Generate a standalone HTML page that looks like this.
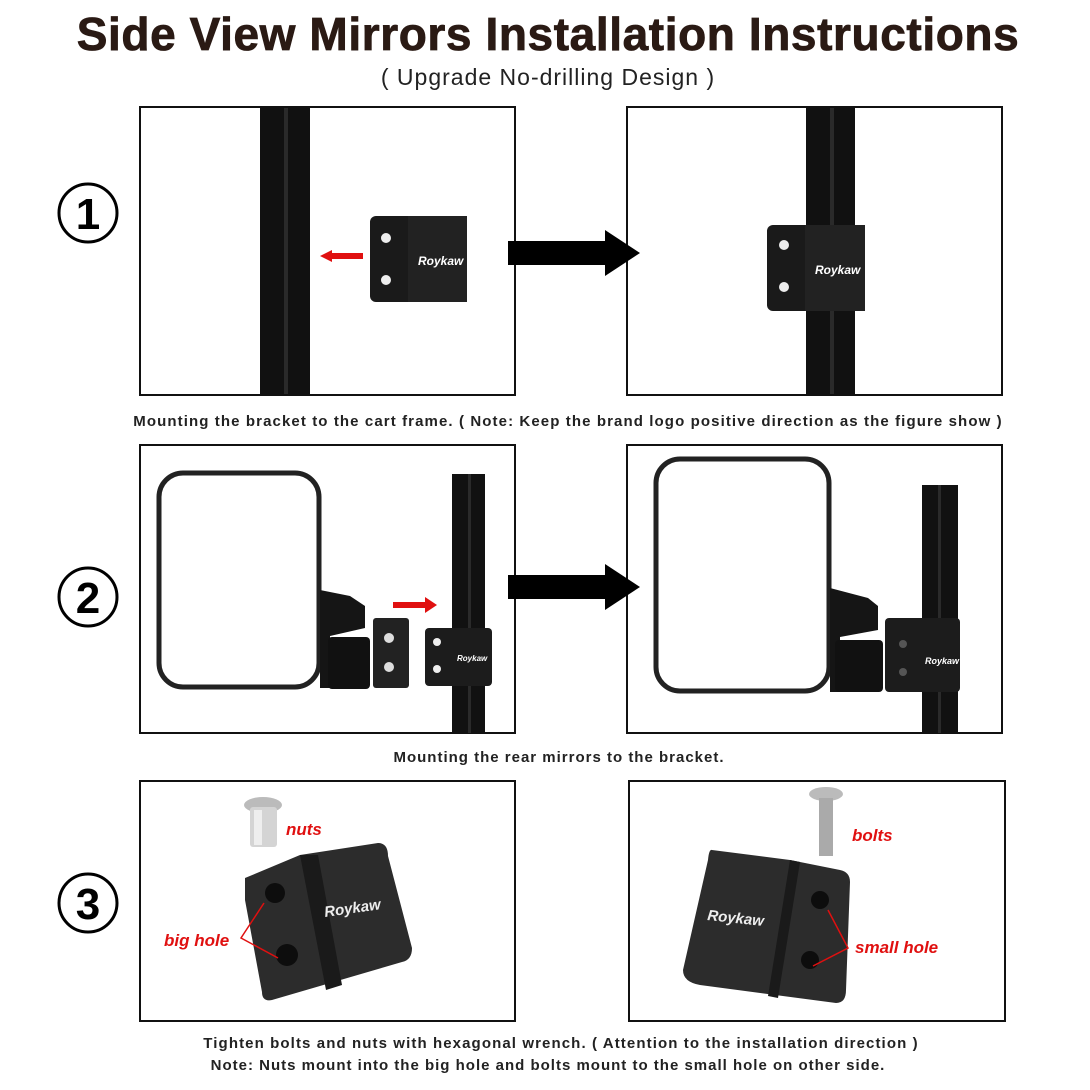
<!DOCTYPE html>
<html><head><meta charset="utf-8"><style>
html,body{margin:0;padding:0;background:#fff;width:1090px;height:1090px;overflow:hidden}
svg{display:block}
text{font-family:"Liberation Sans",sans-serif}
</style></head><body>
<svg width="1090" height="1090" viewBox="0 0 1090 1090" xmlns="http://www.w3.org/2000/svg">
<defs>
<g id="arrow"><polygon points="508,241 605,241 605,230 640,253 605,276 605,265 508,265" fill="#000"/></g>
</defs>
<text x="548" y="50" text-anchor="middle" font-size="46" font-weight="bold" fill="#2a1a14" stroke="#2a1a14" stroke-width="0.8" letter-spacing="0.6">Side View Mirrors Installation Instructions</text>
<text x="548" y="85" text-anchor="middle" font-size="23" fill="#222" letter-spacing="1">( Upgrade No-drilling Design )</text>

<!-- circles -->
<g fill="none" stroke="#000" stroke-width="3">
<circle cx="88" cy="213" r="29"/><circle cx="88" cy="597" r="29"/><circle cx="88" cy="903" r="29"/></g>
<g font-size="44" font-weight="bold" text-anchor="middle" fill="#000">
<text x="88" y="229">1</text><text x="88" y="613">2</text><text x="88" y="919">3</text></g>

<!-- boxes -->
<g fill="none" stroke="#111" stroke-width="2">
<rect x="140" y="107" width="375" height="288"/><rect x="627" y="107" width="375" height="288"/>
<rect x="140" y="445" width="375" height="288"/><rect x="627" y="445" width="375" height="288"/>
<rect x="140" y="781" width="375" height="240"/><rect x="629" y="781" width="376" height="240"/>
</g>

<!-- row1 -->
<rect x="260" y="108" width="50" height="286" fill="#111"/>
<rect x="284" y="108" width="4" height="286" fill="#2a2a2a"/>
<rect x="370" y="216" width="97" height="86" rx="6" fill="#1a1a1a"/>
<rect x="408" y="216" width="59" height="86" fill="#222"/>
<circle cx="386" cy="238" r="5" fill="#eee"/><circle cx="386" cy="280" r="5" fill="#eee"/>
<text x="418" y="265" font-size="12" font-style="italic" fill="#fff" font-weight="bold">Roykaw</text>
<polygon points="332,253 363,253 363,259 332,259 332,262 320,256 332,250" fill="#e01010"/>
<use href="#arrow"/>
<rect x="806" y="108" width="49" height="286" fill="#111"/>
<rect x="830" y="108" width="4" height="286" fill="#2a2a2a"/>
<rect x="767" y="225" width="98" height="86" rx="6" fill="#1a1a1a"/>
<rect x="805" y="225" width="60" height="86" fill="#222"/>
<circle cx="784" cy="245" r="5" fill="#eee"/><circle cx="784" cy="287" r="5" fill="#eee"/>
<text x="815" y="274" font-size="12" font-style="italic" fill="#fff" font-weight="bold">Roykaw</text>
<text x="568" y="426" text-anchor="middle" font-size="15" font-weight="bold" fill="#222" letter-spacing="1.1">Mounting the bracket to the cart frame. ( Note: Keep the brand logo positive direction as the figure show )</text>

<!-- row2 left -->
<rect x="159" y="473" width="160" height="214" rx="24" fill="#fff" stroke="#222" stroke-width="5"/>
<path d="M320,590 L350,596 L365,606 L365,628 L330,636 L330,688 L320,688 Z" fill="#151515"/>
<rect x="328" y="637" width="42" height="52" rx="4" fill="#111"/>
<rect x="373" y="618" width="36" height="70" rx="3" fill="#222"/>
<circle cx="389" cy="638" r="5" fill="#ddd"/><circle cx="389" cy="667" r="5" fill="#ddd"/>
<rect x="452" y="474" width="33" height="259" fill="#111"/>
<rect x="468" y="474" width="3" height="259" fill="#2a2a2a"/>
<rect x="425" y="628" width="67" height="58" rx="4" fill="#1c1c1c"/>
<circle cx="437" cy="642" r="4" fill="#eee"/><circle cx="437" cy="669" r="4" fill="#eee"/>
<text x="457" y="661" font-size="8" font-style="italic" fill="#fff" font-weight="bold">Roykaw</text>
<polygon points="393,602 425,602 425,597 437,605 425,613 425,608 393,608" fill="#e01010"/>
<use href="#arrow" transform="translate(0,334)"/>
<!-- row2 right -->
<rect x="656" y="459" width="173" height="232" rx="24" fill="#fff" stroke="#222" stroke-width="5"/>
<path d="M830,588 L868,598 L878,606 L878,630 L840,637 L840,692 L830,692 Z" fill="#151515"/>
<rect x="835" y="640" width="48" height="52" rx="4" fill="#111"/>
<rect x="922" y="485" width="36" height="248" fill="#111"/>
<rect x="938" y="485" width="3" height="248" fill="#2a2a2a"/>
<rect x="885" y="618" width="75" height="74" rx="4" fill="#1c1c1c"/>
<circle cx="903" cy="644" r="4" fill="#555"/><circle cx="903" cy="672" r="4" fill="#555"/>
<text x="925" y="664" font-size="9" font-style="italic" fill="#fff" font-weight="bold">Roykaw</text>
<text x="559" y="762" text-anchor="middle" font-size="15" font-weight="bold" fill="#222" letter-spacing="1">Mounting the rear mirrors to the bracket.</text>

<!-- row3 left -->
<ellipse cx="263" cy="805" rx="19" ry="8" fill="#bbb"/>
<rect x="250" y="807" width="27" height="40" rx="3" fill="#d4d4d4"/>
<rect x="254" y="810" width="8" height="35" fill="#eee"/>
<text x="286" y="835" font-size="17" font-weight="bold" font-style="italic" fill="#e01010">nuts</text>
<path d="M245,878 L300,855 L378,843 Q388,843 388,856 L412,948 Q412,960 402,962 L272,1000 Q262,1002 262,992 L245,900 Z" fill="#2c2c2c"/>
<path d="M300,855 L318,855 L342,985 L326,990 Z" fill="#1a1a1a"/>
<circle cx="275" cy="893" r="10" fill="#0d0d0d"/><circle cx="287" cy="955" r="11" fill="#0d0d0d"/>
<text x="325" y="917" font-size="15" font-style="italic" fill="#eee" font-weight="bold" transform="rotate(-8 325 917)">Roykaw</text>
<text x="164" y="946" font-size="17" font-weight="bold" font-style="italic" fill="#e01010">big hole</text>
<polyline points="264,903 241,938 278,958" fill="none" stroke="#e01010" stroke-width="1.5"/>
<!-- row3 right -->
<ellipse cx="826" cy="794" rx="17" ry="7" fill="#bbb"/>
<rect x="819" y="798" width="14" height="58" fill="#aaa"/>
<text x="852" y="841" font-size="17" font-weight="bold" font-style="italic" fill="#e01010">bolts</text>
<path d="M712,850 L790,860 L840,870 Q850,872 850,882 L846,990 Q846,1003 836,1003 L700,985 Q683,982 683,970 L708,860 Q709,849 712,850 Z" fill="#2c2c2c"/>
<path d="M790,860 L800,862 L778,998 L768,996 Z" fill="#1a1a1a"/>
<circle cx="820" cy="900" r="9" fill="#0d0d0d"/><circle cx="810" cy="960" r="9" fill="#0d0d0d"/>
<text x="707" y="920" font-size="15" font-style="italic" fill="#eee" font-weight="bold" transform="rotate(6 707 920)">Roykaw</text>
<text x="855" y="953" font-size="17" font-weight="bold" font-style="italic" fill="#e01010">small hole</text>
<polyline points="828,910 848,948 813,966" fill="none" stroke="#e01010" stroke-width="1.5"/>

<text x="561" y="1048" text-anchor="middle" font-size="15" font-weight="bold" fill="#222" letter-spacing="1.1">Tighten bolts and nuts with hexagonal wrench. ( Attention to the installation direction )</text>
<text x="548" y="1070" text-anchor="middle" font-size="15" font-weight="bold" fill="#222" letter-spacing="1">Note: Nuts mount into the big hole and bolts mount to the small hole on other side.</text>
</svg>
</body></html>
